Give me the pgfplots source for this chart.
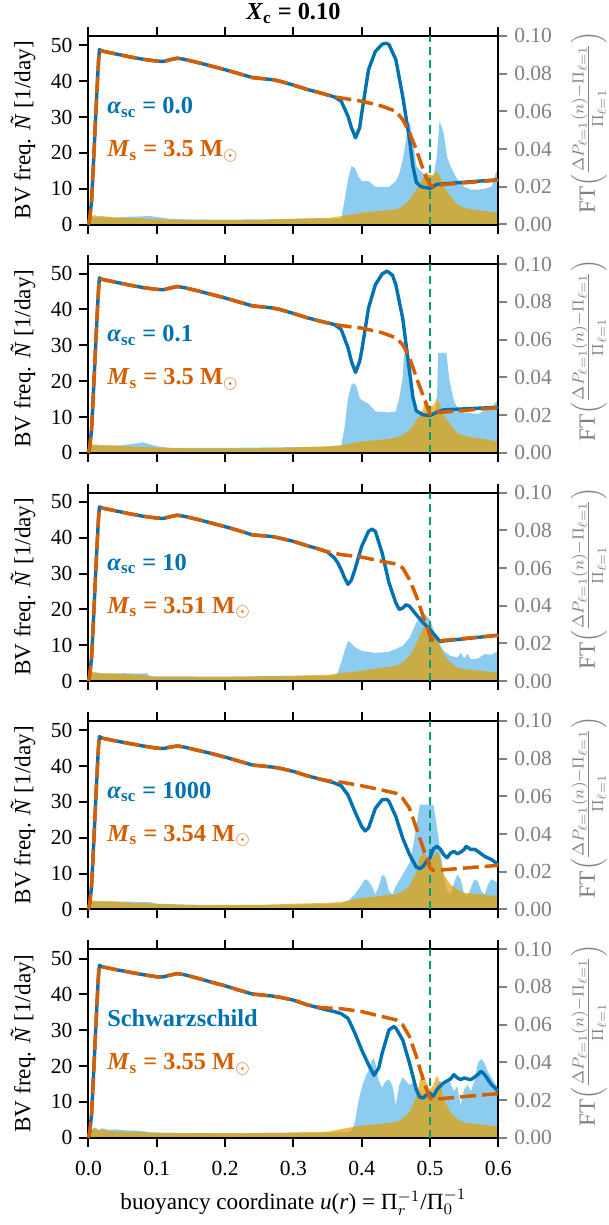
\documentclass[border=0pt]{standalone}
\usepackage{fontspec}
\setmainfont{Liberation Serif}
\usepackage{pgfplots}
\pgfplotsset{compat=1.18}

\definecolor{cblue}{HTML}{0072B2}
\definecolor{corange}{HTML}{D55E00}
\definecolor{cgreen}{HTML}{009E73}
\definecolor{fblue}{HTML}{56B4E9}
\definecolor{fyellow}{HTML}{E69F00}
\definecolor{tgray}{HTML}{808080}

\newcommand{\tickfont}{\fontsize{10.75}{13}\selectfont}
\newcommand{\lblfont}{\fontsize{11.6}{14}\selectfont}
\newcommand{\annfont}{\fontsize{12.2}{14}\selectfont}

\pgfplotsset{
  panel/.style={
    width=204.9pt, height=94.25pt, scale only axis,
    xmin=0, xmax=0.6, clip=false,
    xtick={0,0.1,0.2,0.3,0.4,0.5,0.6},
    tick align=outside, major tick length=4.5pt,
    font=\tickfont, tick label style={font=\tickfont},
    /pgf/number format/assume math mode=true,
    xticklabel style={yshift=-3.5pt, /pgf/number format/.cd, fixed, fixed zerofill, precision=1},
  },
  bvaxis/.style={
    panel, ymin=0, ymax=52.6, ytick={0,10,20,30,40,50},
    xtick pos=both, ytick pos=left,
    axis line style={black, line width=1pt},
    every tick/.style={black, line width=1pt},
  },
  ftaxis/.style={
    panel, ymin=0, ymax=0.1, ytick={0,0.02,0.04,0.06,0.08,0.1},
    axis x line=none, axis y line*=right,
    y axis line style={black, line width=1pt},
    every tick/.style={tgray, line width=1pt},
    yticklabel style={tgray, /pgf/number format/.cd, fixed, fixed zerofill, precision=2},
  },
  bvline/.style={cblue, line width=1.7pt, line join=round},
  msline/.style={corange, line width=1.75pt, dash pattern=on 8pt off 3pt, line join=round},
  xcline/.style={cgreen, line width=1pt, dash pattern=on 4pt off 2.5pt},
  ftblue/.style={fill=fblue, fill opacity=0.68, draw=none},
  ftyellow/.style={fill=fyellow, fill opacity=0.7, draw=none},
}

\newcommand{\ftlabel}{%
  \node[tgray, rotate=90, font=\lblfont, inner sep=0pt] at ([xshift=45.3pt, yshift=4pt]rel axis cs:1,0.5)
    {FT$\left(\frac{\Delta P_{\ell=1}(n)-\Pi_{\ell=1}}{\Pi_{\ell=1}}\right)$};}
\newcommand{\bvlabel}{%
  \node[rotate=90, font=\lblfont] at ([xshift=-32.75pt]rel axis cs:0,0.5)
    {BV freq. \textit{Ñ} [1/day]};}
\newcommand{\modellabel}[2]{%
  \node[anchor=base west, inner sep=0pt, cblue, font=\annfont\bfseries] at (axis cs:0.027,31) {#1};
  \node[anchor=base west, inner sep=0pt, corange, font=\annfont\bfseries] at (axis cs:0.027,19)
    {\textit{M}\textsubscript{s} = #2 M$_{\odot}$};}

\begin{document}
\begin{tikzpicture}
\path[use as bounding box] (0,0) rectangle (304.5pt,-612.5pt);

% ---------------- panel 1: alpha_sc = 0.0 ----------------
\begin{axis}[ftaxis, at={(44.25pt,-18pt)}, anchor=north west]
\addplot[ftblue] coordinates {(0,0.005) (0.005,0.0045) (0.01,0.0035) (0.015,0.0045) (0.02,0.0035) (0.03,0.004) (0.04,0.0035) (0.05,0.004) (0.07,0.0042) (0.09,0.0045) (0.1,0.004) (0.12,0.003) (0.15,0.0027) (0.2,0.0026) (0.25,0.0027) (0.3,0.003) (0.33,0.0033) (0.35,0.003) (0.37,0.003) (0.375,0.013) (0.38,0.024) (0.385,0.031) (0.39,0.030) (0.395,0.0256) (0.40,0.023) (0.41,0.023) (0.42,0.020) (0.43,0.020) (0.44,0.020) (0.45,0.023) (0.455,0.027) (0.46,0.034) (0.465,0.045) (0.469,0.055) (0.472,0.052) (0.475,0.045) (0.48,0.031) (0.49,0.027) (0.5,0.026) (0.505,0.0256) (0.51,0.036) (0.514,0.0547) (0.518,0.051) (0.52,0.0485) (0.525,0.036) (0.53,0.031) (0.54,0.024) (0.55,0.020) (0.56,0.0185) (0.57,0.0185) (0.58,0.019) (0.59,0.020) (0.597,0.028) (0.6,0.027)} \closedcycle;
\addplot[ftyellow] coordinates {(0,0.0053) (0.005,0.0045) (0.01,0.005) (0.015,0.004) (0.02,0.0045) (0.03,0.004) (0.05,0.0035) (0.08,0.0032) (0.1,0.0028) (0.15,0.0023) (0.2,0.0023) (0.25,0.0025) (0.3,0.003) (0.35,0.0035) (0.37,0.0044) (0.4,0.0062) (0.43,0.0074) (0.45,0.008) (0.46,0.0097) (0.47,0.013) (0.48,0.0185) (0.49,0.0247) (0.494,0.028) (0.498,0.0265) (0.502,0.0262) (0.506,0.0265) (0.51,0.028) (0.515,0.0256) (0.52,0.020) (0.53,0.015) (0.54,0.0106) (0.55,0.0088) (0.57,0.0076) (0.6,0.0062)} \closedcycle;
\ftlabel
\end{axis}
\begin{axis}[bvaxis, at={(44.25pt,-18pt)}, anchor=north west, xticklabels={}]
\addplot[xcline] coordinates {(0.5,0) (0.5,52.6)};
\addplot[bvline] coordinates {(0,0) (0.002,2) (0.0045,6.5) (0.007,16) (0.0095,26) (0.012,36) (0.0145,45) (0.016,48.8) (0.02,48.4) (0.04,47.6) (0.06,46.8) (0.08,46.1) (0.1,45.6) (0.11,45.5) (0.12,46.0) (0.13,46.4) (0.14,46.1) (0.16,45.2) (0.18,44.2) (0.2,43.2) (0.22,42.1) (0.24,41.0) (0.26,40.6) (0.27,40.4) (0.28,40.0) (0.3,38.9) (0.32,37.7) (0.34,36.7) (0.36,35.6) (0.37,34.4) (0.38,30.2) (0.385,27) (0.391,24.2) (0.397,27) (0.40,31) (0.41,43.2) (0.42,48.3) (0.43,50.3) (0.436,50.6) (0.44,50.2) (0.45,46) (0.46,35.8) (0.47,23.7) (0.475,16.3) (0.48,11.8) (0.485,10.8) (0.49,10.4) (0.5,10.1) (0.505,10.6) (0.51,11.2) (0.55,11.8) (0.6,12.5)};
\addplot[msline] coordinates {(0,0) (0.002,2) (0.0045,6.5) (0.007,16) (0.0095,26) (0.012,36) (0.0145,45) (0.016,48.8) (0.02,48.4) (0.04,47.6) (0.06,46.8) (0.08,46.1) (0.1,45.6) (0.11,45.5) (0.12,46.0) (0.13,46.4) (0.14,46.1) (0.16,45.2) (0.18,44.2) (0.2,43.2) (0.22,42.1) (0.24,41.0) (0.26,40.6) (0.27,40.4) (0.28,40.0) (0.3,38.9) (0.32,37.7) (0.34,36.7) (0.36,35.6) (0.37,35.3) (0.38,35.0) (0.40,34.4) (0.42,33.5) (0.43,33.0) (0.44,32.3) (0.45,31.6) (0.46,29.3) (0.47,25.6) (0.48,20.9) (0.49,15.3) (0.495,12.8) (0.5,11.2) (0.503,10.7) (0.51,11.0) (0.6,12.4)};
\bvlabel
\modellabel{\textit{α}\textsubscript{sc} = 0.0}{3.5}
\node[anchor=base, inner sep=0pt, font=\annfont\bfseries] at ([yshift=8pt]rel axis cs:0.5,1) {\textit{X}\textsubscript{c} = 0.10};
\end{axis}

% ---------------- panel 2: alpha_sc = 0.1 ----------------
\begin{axis}[ftaxis, at={(44.25pt,-132.15pt)}, anchor=north west]
\addplot[ftblue] coordinates {(0,0.004) (0.01,0.0038) (0.02,0.0042) (0.03,0.0038) (0.05,0.004) (0.07,0.005) (0.08,0.0056) (0.09,0.0045) (0.1,0.0035) (0.12,0.0026) (0.2,0.0026) (0.3,0.003) (0.35,0.003) (0.37,0.004) (0.375,0.0135) (0.38,0.029) (0.385,0.036) (0.389,0.037) (0.393,0.0346) (0.397,0.029) (0.40,0.028) (0.41,0.026) (0.42,0.022) (0.44,0.0214) (0.45,0.022) (0.455,0.029) (0.46,0.040) (0.462,0.053) (0.467,0.053) (0.47,0.043) (0.475,0.031) (0.48,0.022) (0.5,0.019) (0.505,0.0185) (0.51,0.026) (0.512,0.053) (0.524,0.053) (0.528,0.04) (0.53,0.036) (0.535,0.0276) (0.54,0.024) (0.55,0.0214) (0.57,0.0206) (0.59,0.024) (0.6,0.0285)} \closedcycle;
\addplot[ftyellow] coordinates {(0,0.004) (0.01,0.0045) (0.02,0.0038) (0.03,0.004) (0.05,0.0035) (0.1,0.0028) (0.15,0.0023) (0.25,0.0024) (0.3,0.0028) (0.35,0.0035) (0.37,0.004) (0.4,0.006) (0.43,0.007) (0.45,0.008) (0.46,0.0095) (0.47,0.012) (0.48,0.017) (0.49,0.023) (0.494,0.029) (0.499,0.025) (0.505,0.025) (0.51,0.029) (0.515,0.025) (0.52,0.020) (0.53,0.015) (0.54,0.0105) (0.55,0.009) (0.6,0.006)} \closedcycle;
\ftlabel
\end{axis}
\begin{axis}[bvaxis, at={(44.25pt,-132.15pt)}, anchor=north west, xticklabels={}]
\addplot[xcline] coordinates {(0.5,0) (0.5,52.6)};
\addplot[bvline] coordinates {(0,0) (0.002,2) (0.0045,6.5) (0.007,16) (0.0095,26) (0.012,36) (0.0145,45) (0.016,48.8) (0.02,48.4) (0.04,47.6) (0.06,46.8) (0.08,46.1) (0.1,45.6) (0.11,45.5) (0.12,46.0) (0.13,46.4) (0.14,46.1) (0.16,45.2) (0.18,44.2) (0.2,43.2) (0.22,42.1) (0.24,41.0) (0.26,40.6) (0.27,40.4) (0.28,40.0) (0.3,38.9) (0.32,37.7) (0.34,36.7) (0.36,35.8) (0.37,34.4) (0.38,29.3) (0.385,25.5) (0.391,22.4) (0.397,25.5) (0.40,28.4) (0.41,40.4) (0.42,46.9) (0.43,49.9) (0.437,50.7) (0.445,49.6) (0.45,46.9) (0.46,37.6) (0.47,22.8) (0.475,15.5) (0.48,11.7) (0.49,10.6) (0.5,10.4) (0.51,11.3) (0.52,12.0) (0.6,12.7)};
\addplot[msline] coordinates {(0,0) (0.002,2) (0.0045,6.5) (0.007,16) (0.0095,26) (0.012,36) (0.0145,45) (0.016,48.8) (0.02,48.4) (0.04,47.6) (0.06,46.8) (0.08,46.1) (0.1,45.6) (0.11,45.5) (0.12,46.0) (0.13,46.4) (0.14,46.1) (0.16,45.2) (0.18,44.2) (0.2,43.2) (0.22,42.1) (0.24,41.0) (0.26,40.6) (0.27,40.4) (0.28,40.0) (0.3,38.9) (0.32,37.7) (0.34,36.7) (0.36,35.8) (0.37,35.5) (0.40,34.8) (0.43,33.5) (0.45,32.1) (0.46,30.2) (0.47,26.6) (0.48,21) (0.49,15.9) (0.5,10.8) (0.503,10.6) (0.51,11.2) (0.6,12.6)};
\bvlabel
\modellabel{\textit{α}\textsubscript{sc} = 0.1}{3.5}
\end{axis}

% ---------------- panel 3: alpha_sc = 10 ----------------
\begin{axis}[ftaxis, at={(44.25pt,-246.3pt)}, anchor=north west]
\addplot[ftblue] coordinates {(0,0.0045) (0.01,0.004) (0.02,0.0042) (0.03,0.0038) (0.05,0.0042) (0.07,0.004) (0.085,0.0042) (0.09,0.0025) (0.1,0.0025) (0.2,0.0024) (0.3,0.0028) (0.36,0.003) (0.365,0.0046) (0.37,0.0099) (0.375,0.016) (0.38,0.0213) (0.385,0.020) (0.39,0.018) (0.40,0.016) (0.42,0.015) (0.44,0.0155) (0.45,0.017) (0.46,0.0187) (0.47,0.023) (0.48,0.031) (0.49,0.0363) (0.5,0.0327) (0.51,0.022) (0.52,0.016) (0.53,0.0134) (0.54,0.0125) (0.545,0.015) (0.55,0.012) (0.555,0.0145) (0.56,0.0116) (0.57,0.012) (0.58,0.0143) (0.59,0.014) (0.6,0.016)} \closedcycle;
\addplot[ftyellow] coordinates {(0,0.0045) (0.01,0.0048) (0.02,0.004) (0.03,0.0042) (0.05,0.0038) (0.08,0.0033) (0.1,0.0022) (0.2,0.0022) (0.3,0.0028) (0.35,0.0033) (0.37,0.0042) (0.4,0.0055) (0.43,0.0072) (0.45,0.008) (0.46,0.0099) (0.47,0.0134) (0.48,0.020) (0.49,0.0283) (0.495,0.0296) (0.5,0.0283) (0.51,0.022) (0.52,0.0143) (0.53,0.0099) (0.54,0.0072) (0.55,0.0063) (0.6,0.0046)} \closedcycle;
\ftlabel
\end{axis}
\begin{axis}[bvaxis, at={(44.25pt,-246.3pt)}, anchor=north west, xticklabels={}]
\addplot[xcline] coordinates {(0.5,0) (0.5,52.6)};
\addplot[bvline] coordinates {(0,0) (0.002,2) (0.0045,6.5) (0.007,16) (0.0095,26) (0.012,36) (0.0145,45) (0.016,48.6) (0.02,48.3) (0.04,47.5) (0.06,46.7) (0.08,46.0) (0.1,45.5) (0.11,45.4) (0.12,45.9) (0.13,46.3) (0.14,46.0) (0.16,45.1) (0.18,44.1) (0.2,43.1) (0.22,42.0) (0.24,40.8) (0.26,40.5) (0.27,40.3) (0.28,39.9) (0.3,39.0) (0.32,37.8) (0.34,36.7) (0.35,36.0) (0.36,34.4) (0.365,33) (0.37,31.1) (0.375,28.8) (0.38,27.0) (0.385,28.2) (0.39,31.1) (0.40,37.6) (0.41,41.8) (0.415,42.4) (0.42,41.8) (0.43,35.7) (0.44,27.4) (0.45,21.8) (0.455,20) (0.46,20.4) (0.465,21.3) (0.47,20.9) (0.48,18.5) (0.49,16.3) (0.5,14.4) (0.51,12.1) (0.515,11.0) (0.52,11.2) (0.6,12.8)};
\addplot[msline] coordinates {(0,0) (0.002,2) (0.0045,6.5) (0.007,16) (0.0095,26) (0.012,36) (0.0145,45) (0.016,48.6) (0.02,48.3) (0.04,47.5) (0.06,46.7) (0.08,46.0) (0.1,45.5) (0.11,45.4) (0.12,45.9) (0.13,46.3) (0.14,46.0) (0.16,45.1) (0.18,44.1) (0.2,43.1) (0.22,42.0) (0.24,40.8) (0.26,40.5) (0.27,40.3) (0.28,39.9) (0.3,39.0) (0.32,37.8) (0.34,36.7) (0.35,36.1) (0.37,35.3) (0.40,34.6) (0.43,33.4) (0.45,32.7) (0.46,31.6) (0.47,28.3) (0.48,23.7) (0.49,18.1) (0.495,15.4) (0.5,12.6) (0.505,11.2) (0.51,11.2) (0.6,12.8)};
\bvlabel
\modellabel{\textit{α}\textsubscript{sc} = 10}{3.51}
\end{axis}

% ---------------- panel 4: alpha_sc = 1000 ----------------
\begin{axis}[ftaxis, at={(44.25pt,-360.45pt)}, anchor=north west]
\addplot[ftblue] coordinates {(0,0.005) (0.01,0.0042) (0.02,0.0045) (0.03,0.004) (0.05,0.0042) (0.07,0.004) (0.09,0.0038) (0.1,0.003) (0.15,0.0025) (0.2,0.0023) (0.3,0.0025) (0.37,0.003) (0.38,0.0044) (0.39,0.008) (0.40,0.0132) (0.405,0.016) (0.41,0.015) (0.415,0.0123) (0.42,0.008) (0.425,0.0123) (0.43,0.0185) (0.435,0.017) (0.44,0.0097) (0.445,0.008) (0.45,0.0123) (0.46,0.0185) (0.47,0.0247) (0.475,0.033) (0.48,0.044) (0.485,0.0556) (0.505,0.0556) (0.51,0.044) (0.515,0.031) (0.52,0.0185) (0.525,0.0097) (0.53,0.008) (0.535,0.014) (0.54,0.0185) (0.545,0.016) (0.55,0.008) (0.555,0.007) (0.56,0.0116) (0.565,0.016) (0.57,0.015) (0.575,0.0097) (0.58,0.008) (0.585,0.0132) (0.59,0.016) (0.595,0.015) (0.6,0.014)} \closedcycle;
\addplot[ftyellow] coordinates {(0,0.005) (0.01,0.0045) (0.02,0.004) (0.03,0.0045) (0.05,0.0038) (0.1,0.003) (0.15,0.0023) (0.25,0.0024) (0.3,0.003) (0.35,0.0035) (0.37,0.004) (0.4,0.006) (0.43,0.0073) (0.45,0.008) (0.46,0.0097) (0.47,0.0123) (0.48,0.020) (0.485,0.0273) (0.49,0.0308) (0.495,0.028) (0.5,0.0255) (0.505,0.028) (0.51,0.031) (0.515,0.0273) (0.52,0.0185) (0.53,0.0132) (0.54,0.0106) (0.55,0.0088) (0.6,0.007)} \closedcycle;
\ftlabel
\end{axis}
\begin{axis}[bvaxis, at={(44.25pt,-360.45pt)}, anchor=north west, xticklabels={}]
\addplot[xcline] coordinates {(0.5,0) (0.5,52.6)};
\addplot[bvline] coordinates {(0,0) (0.002,2) (0.0045,6.5) (0.007,16) (0.0095,26) (0.012,36) (0.0145,45) (0.016,48.2) (0.02,47.8) (0.04,47) (0.06,46.3) (0.08,45.6) (0.1,45) (0.11,44.9) (0.12,45.3) (0.13,45.6) (0.14,45.3) (0.16,44.4) (0.18,43.5) (0.2,42.5) (0.22,41.4) (0.24,40.3) (0.26,39.9) (0.27,39.7) (0.28,39.4) (0.3,38.5) (0.32,37.3) (0.34,36.3) (0.36,35.3) (0.37,34.5) (0.38,31.9) (0.39,27.3) (0.40,23.1) (0.405,21.9) (0.41,22.7) (0.42,28.2) (0.43,30.6) (0.437,30.7) (0.44,30.1) (0.45,25.9) (0.46,19.9) (0.47,15.3) (0.48,11.8) (0.485,11.4) (0.49,12) (0.495,13.4) (0.5,14.4) (0.505,16.9) (0.51,17.6) (0.515,16.9) (0.52,15.3) (0.525,14.4) (0.53,15.7) (0.535,16.2) (0.54,15.5) (0.545,16.0) (0.55,16.7) (0.553,17.6) (0.56,16.7) (0.565,16.8) (0.57,16.2) (0.58,14.8) (0.59,13.9) (0.6,12.5)};
\addplot[msline] coordinates {(0,0) (0.002,2) (0.0045,6.5) (0.007,16) (0.0095,26) (0.012,36) (0.0145,45) (0.016,48.2) (0.02,47.8) (0.04,47) (0.06,46.3) (0.08,45.6) (0.1,45) (0.11,44.9) (0.12,45.3) (0.13,45.6) (0.14,45.3) (0.16,44.4) (0.18,43.5) (0.2,42.5) (0.22,41.4) (0.24,40.3) (0.26,39.9) (0.27,39.7) (0.28,39.4) (0.3,38.5) (0.32,37.3) (0.34,36.3) (0.36,35.6) (0.37,35.5) (0.40,34.5) (0.43,33.3) (0.45,32.4) (0.46,31) (0.47,28.2) (0.48,22.7) (0.49,17.1) (0.495,14.4) (0.5,11.6) (0.505,10.8) (0.51,10.9) (0.6,12.3)};
\bvlabel
\modellabel{\textit{α}\textsubscript{sc} = 1000}{3.54}
\end{axis}

% ---------------- panel 5: Schwarzschild ----------------
\begin{axis}[ftaxis, at={(44.25pt,-474.6pt)}, anchor=north west]
\addplot[ftblue] coordinates {(0,0.005) (0.005,0.0045) (0.01,0.0055) (0.015,0.004) (0.02,0.005) (0.03,0.0042) (0.04,0.0045) (0.05,0.004) (0.07,0.0038) (0.09,0.003) (0.1,0.0028) (0.15,0.0025) (0.2,0.0023) (0.3,0.0025) (0.38,0.003) (0.385,0.0035) (0.39,0.008) (0.395,0.019) (0.40,0.0265) (0.405,0.032) (0.41,0.0357) (0.415,0.0413) (0.418,0.042) (0.42,0.0394) (0.425,0.030) (0.43,0.0265) (0.435,0.030) (0.44,0.031) (0.445,0.0274) (0.45,0.0172) (0.455,0.028) (0.46,0.032) (0.465,0.030) (0.47,0.028) (0.475,0.029) (0.48,0.0265) (0.485,0.024) (0.49,0.0228) (0.5,0.021) (0.505,0.023) (0.51,0.028) (0.515,0.030) (0.52,0.0274) (0.525,0.031) (0.53,0.029) (0.535,0.0246) (0.54,0.0274) (0.545,0.0172) (0.55,0.0256) (0.555,0.028) (0.56,0.0246) (0.565,0.030) (0.57,0.0394) (0.575,0.042) (0.58,0.0394) (0.585,0.0348) (0.59,0.032) (0.595,0.029) (0.6,0.0265)} \closedcycle;
\addplot[ftyellow] coordinates {(0,0.0052) (0.005,0.004) (0.01,0.0048) (0.015,0.0038) (0.02,0.0045) (0.03,0.0035) (0.05,0.0033) (0.08,0.003) (0.1,0.0024) (0.2,0.0024) (0.3,0.0028) (0.35,0.0032) (0.38,0.0052) (0.4,0.0065) (0.43,0.0074) (0.45,0.0083) (0.46,0.0102) (0.47,0.0135) (0.48,0.0218) (0.485,0.030) (0.49,0.0343) (0.495,0.029) (0.5,0.0256) (0.505,0.028) (0.51,0.033) (0.515,0.029) (0.52,0.021) (0.53,0.0135) (0.54,0.0098) (0.55,0.008) (0.6,0.006)} \closedcycle;
\ftlabel
\end{axis}
\begin{axis}[bvaxis, at={(44.25pt,-474.6pt)}, anchor=north west]
\addplot[xcline] coordinates {(0.5,0) (0.5,52.6)};
\addplot[bvline] coordinates {(0,0) (0.002,2) (0.0045,6.5) (0.007,16) (0.0095,26) (0.012,36) (0.0145,45) (0.016,48.1) (0.02,47.7) (0.04,46.9) (0.06,46.2) (0.08,45.5) (0.1,44.9) (0.11,44.9) (0.12,45.4) (0.13,45.8) (0.14,45.5) (0.16,44.5) (0.18,43.4) (0.2,42.4) (0.22,41.2) (0.24,40.1) (0.26,39.7) (0.27,39.5) (0.28,39.2) (0.3,38.4) (0.32,37.1) (0.34,36.1) (0.35,35.6) (0.36,35.2) (0.37,34.6) (0.38,33.3) (0.39,29.2) (0.40,24.5) (0.41,20.4) (0.418,17.4) (0.425,19.5) (0.43,23.6) (0.44,30.1) (0.447,31) (0.45,30.6) (0.46,27.3) (0.47,20.8) (0.48,13.4) (0.485,11.3) (0.49,11.1) (0.495,12) (0.5,12.3) (0.505,11.6) (0.51,13.4) (0.52,15.3) (0.53,16.4) (0.535,17.6) (0.54,16.7) (0.545,16.2) (0.55,16.7) (0.555,16.4) (0.56,16.2) (0.57,17.6) (0.575,18.5) (0.58,17.6) (0.59,14.8) (0.6,13)};
\addplot[msline] coordinates {(0,0) (0.002,2) (0.0045,6.5) (0.007,16) (0.0095,26) (0.012,36) (0.0145,45) (0.016,48.1) (0.02,47.7) (0.04,46.9) (0.06,46.2) (0.08,45.5) (0.1,44.9) (0.11,44.9) (0.12,45.4) (0.13,45.8) (0.14,45.5) (0.16,44.5) (0.18,43.4) (0.2,42.4) (0.22,41.2) (0.24,40.1) (0.26,39.7) (0.27,39.5) (0.28,39.2) (0.3,38.4) (0.32,37.1) (0.34,36.3) (0.37,36.0) (0.40,35.2) (0.43,33.8) (0.45,32.9) (0.46,31.5) (0.47,28.2) (0.48,22.7) (0.49,16.2) (0.495,13.4) (0.5,11.1) (0.505,10.6) (0.51,10.8) (0.6,12.3)};
\bvlabel
\modellabel{Schwarzschild}{3.55}
\node[anchor=base, font=\lblfont] at ([yshift=-36pt]rel axis cs:0.5,0)
  {buoyancy coordinate \textit{u}(\textit{r}) = Π$_r^{-1}$/Π$_0^{-1}$};
\end{axis}
\end{tikzpicture}
\end{document}
